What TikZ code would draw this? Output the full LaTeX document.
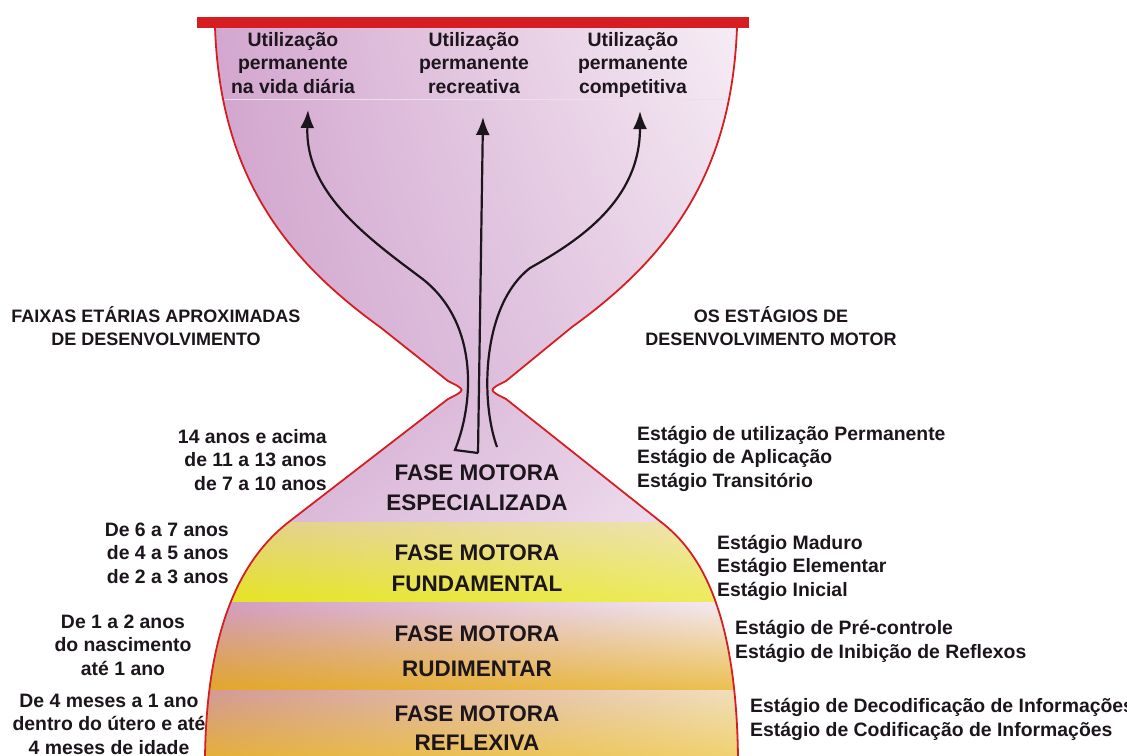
\documentclass[tikz,border=0pt]{standalone}
\usepackage{fontspec}
\setmainfont{Liberation Sans}
\usetikzlibrary{arrows.meta,shadings}

\definecolor{glassred}{RGB}{214,30,34}
\definecolor{ink}{RGB}{28,22,28}
\definecolor{topUL}{RGB}{210,164,206}
\definecolor{topUR}{RGB}{248,240,246}
\definecolor{topLL}{RGB}{206,162,204}
\definecolor{topLR}{RGB}{234,214,234}
\definecolor{espUL}{RGB}{206,160,202}
\definecolor{espUR}{RGB}{236,218,236}
\definecolor{espLL}{RGB}{214,176,212}
\definecolor{espLR}{RGB}{242,228,242}
\definecolor{funUL}{RGB}{226,206,132}
\definecolor{funUR}{RGB}{240,230,182}
\definecolor{funLL}{RGB}{228,228,30}
\definecolor{funLR}{RGB}{238,236,96}
\definecolor{rudUL}{RGB}{208,152,192}
\definecolor{rudUR}{RGB}{246,240,246}
\definecolor{rudLL}{RGB}{226,166,40}
\definecolor{rudLR}{RGB}{236,192,82}
\definecolor{refUL}{RGB}{210,152,150}
\definecolor{refUR}{RGB}{242,226,190}
\definecolor{refLL}{RGB}{230,176,52}
\definecolor{refLR}{RGB}{240,210,110}
\definecolor{rule}{RGB}{238,222,236}

\def\glass{(215,28) .. controls (220,170) and (280,255) .. (380,327) -- (448,381) .. controls (466,390) .. (448,399) -- (290,521) .. controls (251,551) and (207,610) .. (205,757) -- (738,757) .. controls (736,610) and (700,552) .. (661,522) -- (506,399) .. controls (488,390) .. (506,381) -- (572,327) .. controls (672,255) and (732,170) .. (737,28) -- cycle}

\begin{document}
\begin{tikzpicture}[x=1pt,y=-1pt,
  small/.style={font=\bfseries\fontsize{19.4}{23.5}\selectfont, text=ink, inner sep=0pt},
  head/.style={font=\bfseries\fontsize{18}{23}\selectfont, text=ink, inner sep=0pt, align=center, anchor=base},
  phase/.style={font=\bfseries\fontsize{22.5}{31}\selectfont, text=ink, inner sep=0pt, align=center, anchor=base},
  flow/.style={line width=2.2pt, draw=ink, -{Latex[length=18pt,width=14pt]}},
  rim/.style={draw=glassred, line width=1.8pt}]
\useasboundingbox (0,0) rectangle (1127,755);

\begin{scope}
\clip \glass;
\shade[upper left=topUL, upper right=topUR, lower left=topLL, lower right=topLR] (195,20) rectangle (760,395);
\shade[upper left=espUL, upper right=espUR, lower left=espLL, lower right=espLR] (195,395) rectangle (760,522);
\shade[upper left=funUL, upper right=funUR, lower left=funLL, lower right=funLR] (195,522) rectangle (760,602);
\shade[upper left=rudUL, upper right=rudUR, lower left=rudLL, lower right=rudLR] (195,602) rectangle (760,690);
\shade[upper left=refUL, upper right=refUR, lower left=refLL, lower right=refLR] (195,690) rectangle (760,760);
\draw[line width=1pt, draw=rule] (200,99) -- (750,99);
\end{scope}

\draw[rim] (215,27) .. controls (220,170) and (280,255) .. (380,327) -- (448,381) .. controls (466,390) .. (448,399) -- (290,521) .. controls (251,551) and (207,610) .. (205,757);
\draw[rim] (737,27) .. controls (732,170) and (672,255) .. (572,327) -- (506,381) .. controls (488,390) .. (506,399) -- (661,522) .. controls (700,552) and (736,610) .. (738,757);
\fill[glassred] (197,17) rectangle (749,28);

\coordinate (root) at (478,453);
\coordinate (bend) at (455,450);
\coordinate (sideroot) at (497,447);
\coordinate (dailytip) at (308,110);
\coordinate (recreatip) at (483,117);
\coordinate (competetip) at (640,111);

\draw[flow] (root) -- (bend) .. controls (475,400) and (478,320) .. (420,277) .. controls (362,234) and (305,190) .. (dailytip);
\draw[flow] (root) -- (recreatip);
\draw[flow] (sideroot) .. controls (480,400) and (482,305) .. (530,268) .. controls (580,240) and (640,200) .. (competetip);

\node[small, align=center, anchor=base] (daily) at (293,93) {Utilização\\permanente\\na vida diária};
\node[small, align=center, anchor=base] (recrea) at (474,93) {Utilização\\permanente\\recreativa};
\node[small, align=center, anchor=base] (compete) at (633,93) {Utilização\\permanente\\competitiva};

\node[head] (ageshead) at (156,345) {FAIXAS ETÁRIAS APROXIMADAS\\DE DESENVOLVIMENTO};
\node[head] (stagehead) at (771,345) {OS ESTÁGIOS DE\\DESENVOLVIMENTO MOTOR};

\node[small, align=right, anchor=base east] (agespec) at (327,490) {14 anos e acima\\de 11 a 13 anos\\de 7 a 10 anos};
\node[small, align=right, anchor=base east] (agefund) at (229,583) {De 6 a 7 anos\\de 4 a 5 anos\\de 2 a 3 anos};
\node[small, align=center, anchor=base] (agerud) at (123,675) {De 1 a 2 anos\\do nascimento\\até 1 ano};
\node[small, align=center, anchor=base] (agerefl) at (109,754) {De 4 meses a 1 ano\\dentro do útero e até\\4 meses de idade};

\node[small, align=left, anchor=base west] (stgspec) at (637,487) {Estágio de utilização Permanente\\Estágio de Aplicação\\Estágio Transitório};
\node[small, align=left, anchor=base west] (stgfund) at (717,596) {Estágio Maduro\\Estágio Elementar\\Estágio Inicial};
\node[small, align=left, anchor=base west] (stgrud) at (735,658) {Estágio de Pré-controle\\Estágio de Inibição de Reflexos};
\node[small, align=left, anchor=base west] (stgrefl) at (750,736) {Estágio de Decodificação de Informações\\Estágio de Codificação de Informações};

\node[phase] (phspec) at (477,510) {FASE MOTORA\\[-1pt]ESPECIALIZADA};
\node[phase] (phfund) at (477,591) {FASE MOTORA\\FUNDAMENTAL};
\node[phase] (phrud) at (477,676) {FASE MOTORA\\[4pt]RUDIMENTAR};
\node[phase] (phrefl) at (477,750) {FASE MOTORA\\[-2pt]REFLEXIVA};
\end{tikzpicture}
\end{document}
